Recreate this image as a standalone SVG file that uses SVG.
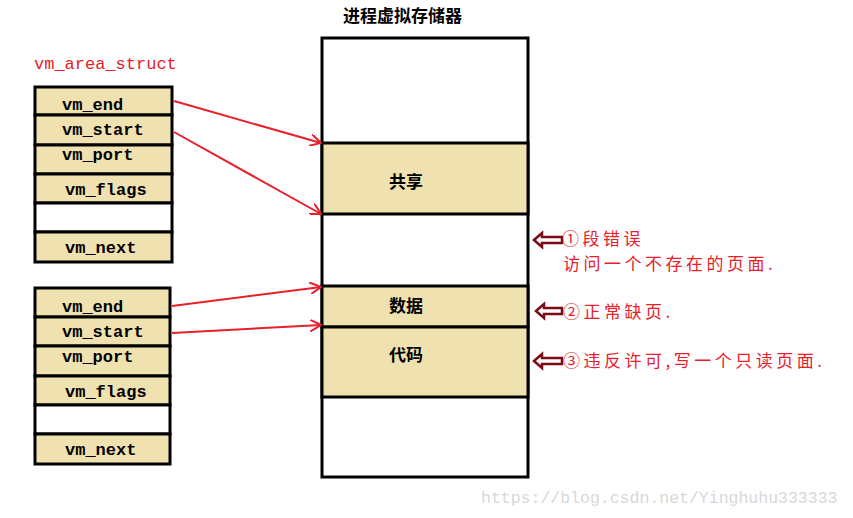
<svg xmlns="http://www.w3.org/2000/svg" width="853" height="518" viewBox="0 0 853 518">
<defs>
<style>
.c{fill:#efe2b0;stroke:#000;stroke-width:3}
.w{fill:#fff;stroke:#000;stroke-width:3}
.t{font-family:"Liberation Mono",monospace;font-size:17px;font-weight:bold;fill:#000}
.z{font-family:"Noto Sans CJK SC",sans-serif;font-size:17px;font-weight:bold;fill:#000}
.r{font-family:"Noto Sans CJK SC",sans-serif;font-size:17px;fill:#e8202a;letter-spacing:3.5px}
.a{stroke:#e8202a;stroke-width:2;fill:none}
.h{fill:#fff;stroke:#7a0a14;stroke-width:2.5}
</style>
<marker id="m" viewBox="0 0 12 12" refX="11" refY="6" markerWidth="12" markerHeight="12" markerUnits="userSpaceOnUse" orient="auto"><path d="M0 0L11 6L0 12" fill="none" stroke="#e8202a" stroke-width="2"/></marker>
</defs>
<text x="343" y="22" class="z">进程虚拟存储器</text>
<text x="34" y="69" font-family="Liberation Mono,monospace" font-size="17" fill="#e8202a">vm_area_struct</text>
<g id="struct1">
<rect x="35" y="87" width="137" height="28" class="c"/><text x="62" y="110" class="t">vm_end</text>
<rect x="35" y="115" width="137" height="30" class="c"/><text x="62" y="135" class="t">vm_start</text>
<rect x="35" y="145" width="137" height="29" class="c"/><text x="62" y="160" class="t">vm_port</text>
<rect x="35" y="174" width="137" height="29" class="c"/><text x="65" y="195" class="t">vm_flags</text>
<rect x="35" y="203" width="137" height="29" class="w"/>
<rect x="35" y="232" width="137" height="30" class="c"/><text x="65" y="253" class="t">vm_next</text>
</g>
<g id="struct2">
<rect x="35" y="288" width="135" height="29" class="c"/><text x="62" y="312" class="t">vm_end</text>
<rect x="35" y="317" width="135" height="29" class="c"/><text x="62" y="337" class="t">vm_start</text>
<rect x="35" y="346" width="135" height="30" class="c"/><text x="62" y="362" class="t">vm_port</text>
<rect x="35" y="376" width="135" height="29" class="c"/><text x="65" y="397" class="t">vm_flags</text>
<rect x="35" y="405" width="135" height="29" class="w"/>
<rect x="35" y="434" width="135" height="30" class="c"/><text x="65" y="455" class="t">vm_next</text>
</g>
<g id="memory">
<rect x="322" y="38" width="206" height="439" class="w"/>
<rect x="322" y="143" width="206" height="71" class="c"/><text x="389" y="188" class="z">共享</text>
<rect x="322" y="286" width="206" height="41" class="c"/><text x="389" y="312" class="z">数据</text>
<rect x="322" y="327" width="206" height="70" class="c"/><text x="389" y="361" class="z">代码</text>
</g>
<g id="connectors">
<line x1="174" y1="101" x2="321" y2="143" class="a" marker-end="url(#m)"/>
<line x1="174" y1="132" x2="321" y2="214" class="a" marker-end="url(#m)"/>
<line x1="172" y1="306" x2="321" y2="287" class="a" marker-end="url(#m)"/>
<line x1="172" y1="333" x2="321" y2="325" class="a" marker-end="url(#m)"/>
<path d="M534 240L542 233V237H562V243H542V247Z" class="h"/>
<path d="M536 311L544 304V308H562V314H544V318Z" class="h"/>
<path d="M534 361L542 354V358H562V364H542V368Z" class="h"/>
</g>
<text x="562" y="245" class="r">①段错误</text>
<text x="563" y="270" class="r">访问一个不存在的页面.</text>
<text x="563" y="318" class="r">②正常缺页.</text>
<text x="563" y="367" class="r">③违反许可,写一个只读页面.</text>
<text x="481" y="503" font-family="Liberation Mono,monospace" font-size="16.5" fill="#d8d8d8">https://blog.csdn.net/Yinghuhu333333</text>
</svg>
